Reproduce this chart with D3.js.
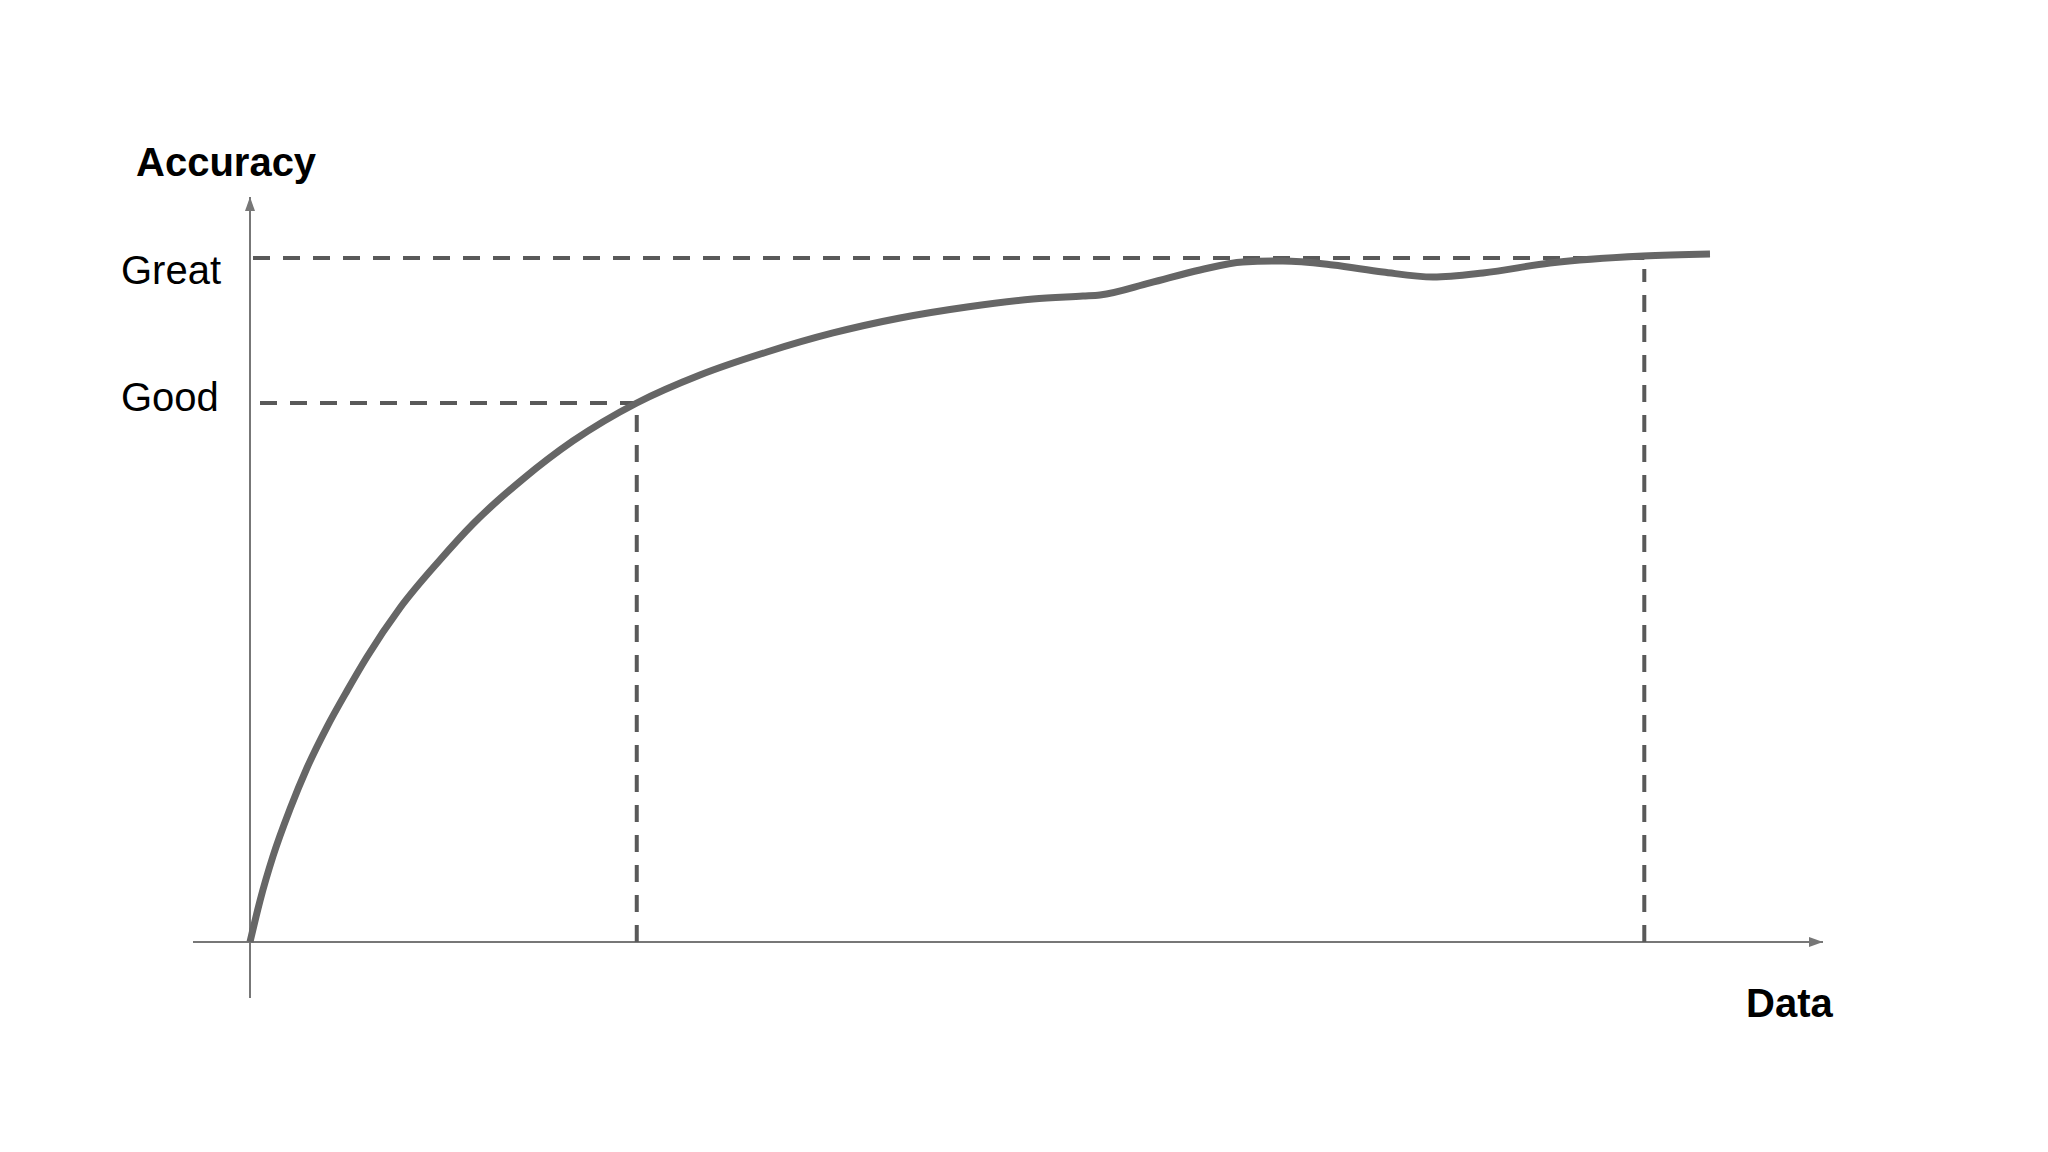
<!DOCTYPE html>
<html>
<head>
<meta charset="utf-8">
<script src="https://cdn.jsdelivr.net/npm/d3@7"></script>
<style>
    body { margin: 0; background: #fff; }
    text { font-family: "Liberation Sans", Arial, sans-serif; }
</style>
</head>
<body>
<div class="chart"></div>
<script>
// curve: amount of data (0-100) vs accuracy (0-100, Great = 100)
let dataAmount = [0, 0.68, 1.58, 2.74, 3.9, 5.27, 6.64, 8.01, 10.27, 13.01, 15.27, 18.7, 22.12,
    26.49, 30.82, 35.41, 39.93, 44.52, 49.11, 53.63, 57.05, 58.22, 61.64, 65.07, 68.01, 70.75,
    74.18, 77.6, 81.03, 84.45, 89.04, 95.41, 100];
let accuracy = [0, 5.99, 12.57, 19.44, 25.44, 31.43, 36.7, 41.67, 48.83, 55.85, 61.11, 67.69, 73.25,
    78.8, 82.89, 86.26, 89.04, 91.23, 92.84, 94.01, 94.44, 94.59, 96.35, 98.25, 99.42, 99.56,
    98.98, 97.95, 97.22, 97.81, 99.27, 100.29, 100.58];

// threshold levels and where the curve reaches them
let levelNames = ["Good", "Great"];
let levelValues = [78.8, 100];
let levelReachedAt = [26.49, 95.5];

let axisLabelX = "Data";
let axisLabelY = "Accuracy";

let width = 2048, height = 1152;

let svg = d3.select(".chart").append("svg")
    .attr("width", width).attr("height", height);

let x = d3.scaleLinear().domain([0, 100]).range([250, 1710]);
let y = d3.scaleLinear().domain([0, 100]).range([942, 258]);

let axisColor = "#777777",
    dashColor = "#595959",
    curveColor = "#666666";

let defs = svg.append("defs");
defs.append("marker")
    .attr("id", "arrow")
    .attr("viewBox", "0 0 14 10")
    .attr("refX", 14).attr("refY", 5)
    .attr("markerWidth", 14).attr("markerHeight", 10)
    .attr("markerUnits", "userSpaceOnUse")
    .attr("orient", "auto")
    .append("path")
    .attr("d", "M0,0 L14,5 L0,10 Z")
    .attr("fill", axisColor);

// axes lines with arrows (no ticks)
svg.append("line")
    .attr("x1", 193).attr("x2", 1823)
    .attr("y1", y(0)).attr("y2", y(0))
    .attr("stroke", axisColor).attr("stroke-width", 2)
    .attr("marker-end", "url(#arrow)");

svg.append("line")
    .attr("x1", x(0)).attr("x2", x(0))
    .attr("y1", 998).attr("y2", 197)
    .attr("stroke", axisColor).attr("stroke-width", 2)
    .attr("marker-end", "url(#arrow)");

// level labels via axis
let yAxis = svg.append("g")
    .attr("transform", "translate(" + x(0) + ",0)")
    .call(d3.axisLeft(y)
        .tickValues(levelValues)
        .tickFormat(function (d, i) {
            return levelNames[i];
        })
        .tickSize(0)
        .tickPadding(129));
yAxis.select(".domain").remove();
yAxis.selectAll("text")
    .attr("font-family", "Liberation Sans, Arial, sans-serif")
    .attr("font-size", "40px")
    .attr("fill", "#000")
    .attr("text-anchor", "start")
    .attr("dy", function (d, i) {
        // Good sits just under its line, Great a little lower
        return i === 0 ? 7 : 25;
    });

// dashed guide lines
for (let i = 0; i < levelNames.length; i++) {
    let startX = i === 0 ? x(0) + 10 : x(0) + 3;
    svg.append("line")
        .attr("x1", startX).attr("x2", x(levelReachedAt[i]))
        .attr("y1", y(levelValues[i])).attr("y2", y(levelValues[i]))
        .attr("stroke", dashColor).attr("stroke-width", 4)
        .attr("stroke-dasharray", "17,13");

    svg.append("line")
        .attr("x1", x(levelReachedAt[i])).attr("x2", x(levelReachedAt[i]))
        .attr("y1", y(0)).attr("y2", y(levelValues[i]) + 11)
        .attr("stroke", dashColor).attr("stroke-width", 4)
        .attr("stroke-dasharray", "17,13");
}

// the curve
let points = dataAmount.map(function (d, i) {
    return [d, accuracy[i]];
});

svg.append("path")
    .datum(points)
    .attr("fill", "none")
    .attr("stroke", curveColor)
    .attr("stroke-width", 7)
    .attr("d", d3.line()
        .x(function (d) { return x(d[0]); })
        .y(function (d) { return y(d[1]); })
        .curve(d3.curveMonotoneX));

// axis titles
svg.append("text")
    .attr("x", 136).attr("y", 176)
    .attr("font-size", "40px").attr("font-weight", "bold")
    .attr("fill", "#000")
    .text(axisLabelY);

svg.append("text")
    .attr("x", 1746).attr("y", 1017)
    .attr("font-size", "40px").attr("font-weight", "bold")
    .attr("fill", "#000")
    .text(axisLabelX);
</script>
</body>
</html>
